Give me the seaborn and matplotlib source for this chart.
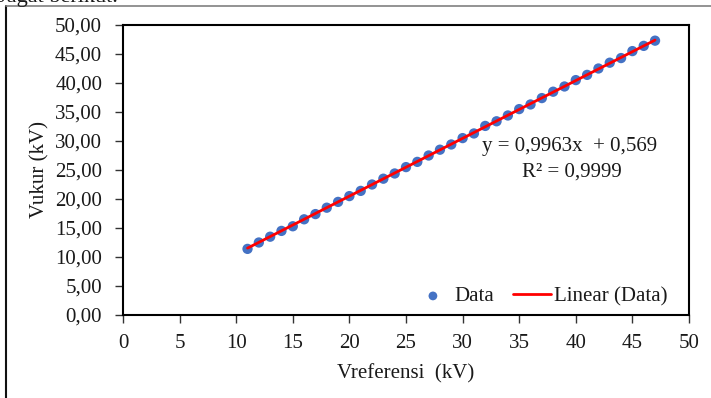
import matplotlib
matplotlib.use("Agg")
import matplotlib.pyplot as plt
import seaborn as sns
import pandas as pd
import numpy as np
from matplotlib.lines import Line2D
from matplotlib.ticker import FuncFormatter

# ---- data ----
v_ref = [11, 12, 13, 14, 15, 16, 17, 18, 19, 20, 21, 22, 23, 24, 25, 26, 27, 28, 29,
         30, 31, 32, 33, 34, 35, 36, 37, 38, 39, 40, 41, 42, 43, 44, 45, 46, 47]
v_ukur = [11.4, 12.5, 13.5, 14.5, 15.3, 16.5, 17.4, 18.5, 19.5, 20.5, 21.4, 22.5, 23.5,
          24.4, 25.5, 26.4, 27.5, 28.5, 29.4, 30.5, 31.3, 32.6, 33.4, 34.4, 35.5, 36.3,
          37.4, 38.5, 39.4, 40.5, 41.4, 42.5, 43.5, 44.3, 45.5, 46.4, 47.3]
slope = 0.9963
intercept = 0.569
r2 = 0.9999
x_ticks = [0, 5, 10, 15, 20, 25, 30, 35, 40, 45, 50]
y_ticks = [0, 5, 10, 15, 20, 25, 30, 35, 40, 45, 50]

df = pd.DataFrame({"x": v_ref, "y": v_ukur})
fit = pd.DataFrame({"x": [v_ref[0], v_ref[-1]]})
fit["y"] = slope * fit["x"] + intercept

sns.set_theme(style="white")
plt.rcParams["font.family"] = ["Liberation Serif", "DejaVu Serif"]

W, H = 711, 398
FS = 15
TXT = "#1a1a1a"
fig = plt.figure(figsize=(W / 100, H / 100), dpi=100)
ax = fig.add_axes([123 / W, 1 - 315 / H, (689 - 123) / W, (315 - 25) / H])

sns.scatterplot(data=df, x="x", y="y", ax=ax, color="#4472C4", s=55,
                edgecolor="none", label="Data", zorder=2)
sns.lineplot(data=fit, x="x", y="y", ax=ax, color="#FF0000", lw=2.0,
             label="Linear (Data)", zorder=3)

ax.set_xlim(0, 50)
ax.set_ylim(0, 50)
ax.set_xticks(x_ticks)
ax.set_yticks(y_ticks)
ax.yaxis.set_major_formatter(FuncFormatter(lambda v, p: f"{v:.2f}".replace(".", ",")))
ax.xaxis.set_major_formatter(FuncFormatter(lambda v, p: f"{int(v)}"))
ax.tick_params(axis="both", direction="out", length=6, width=1, color="#333333",
               labelsize=FS, labelcolor=TXT, left=True, bottom=True)
ax.tick_params(axis="x", pad=8)
ax.tick_params(axis="y", pad=9)
for s in ax.spines.values():
    s.set_visible(True)
    s.set_color("black")
    s.set_linewidth(1.5)

ax.set_xlabel("Vreferensi  (kV)", fontsize=FS, color=TXT, labelpad=8)
ax.set_ylabel("Vukur (kV)", fontsize=FS, color=TXT, labelpad=4)

fig.text(570 / W, 1 - 147 / H, f"y = {slope:.4f}x  + {intercept:.3f}".replace(".", ","),
         ha="center", va="center", fontsize=FS, color=TXT)
fig.text(572 / W, 1 - 172 / H, f"R² = {r2:.4f}".replace(".", ","),
         ha="center", va="center", fontsize=FS, color=TXT)

leg = ax.legend(loc="lower right", bbox_to_anchor=(0.995, -0.035), ncol=2, frameon=False,
                fontsize=FS, handlelength=1.8, handletextpad=0.15, columnspacing=0.9,
                markerscale=0.85)
for t in leg.get_texts():
    t.set_color(TXT)

# chart-area border fragments and cut-off caption text
fig.add_artist(Line2D([6 / W, 6 / W], [0, 1 - 6 / H], transform=fig.transFigure,
                      color="#111111", lw=1.5))
fig.add_artist(Line2D([6 / W, 1], [1 - 6 / H, 1 - 6 / H], transform=fig.transFigure,
                      color="#808080", lw=1.2))
fig.text(-2 / W, 1 - 2 / H, "Jagat berikut.", fontsize=16, ha="left", va="baseline",
         color=TXT)

fig.savefig("out.png", dpi=100)
